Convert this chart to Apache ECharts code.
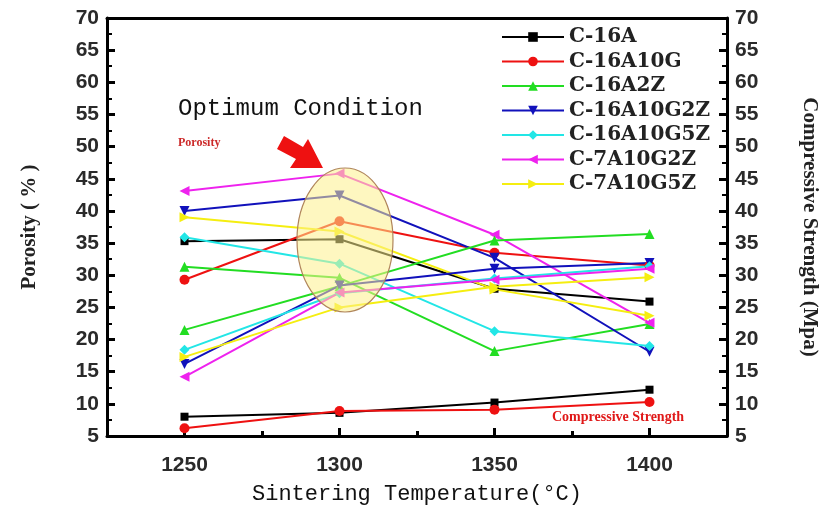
<!DOCTYPE html>
<html>
<head>
<meta charset="utf-8">
<script src="https://cdn.jsdelivr.net/npm/echarts@6/dist/echarts.min.js"></script>
<style>
  html, body { margin: 0; padding: 0; background: #fff; }
  #chart { width: 822px; height: 511px; }
</style>
</head>
<body>
<div id="chart"></div>
<script>
// sintering temperatures (°C)
const temps = [1250, 1300, 1350, 1400];
const names = ['C-16A', 'C-16A10G', 'C-16A2Z', 'C-16A10G2Z', 'C-16A10G5Z', 'C-7A10G2Z', 'C-7A10G5Z'];
const symbols = ['rect', 'circle', 'triangle', 'triangle', 'diamond', 'triangle', 'triangle'];
const symbolRotate = [0, 0, 0, 180, 0, 90, -90];
const colors = ['#000000', '#ee1111', '#22dd22', '#1111bb', '#22e6e6', '#ee22ee', '#f5ee10'];

// porosity (%)
const porosity = [
  [35.3, 35.6, 27.9, 25.9],
  [29.3, 38.4, 33.5, 31.5],
  [31.3, 29.6, 18.2, 22.4],
  [40.0, 42.4, 32.7, 18.1],
  [35.9, 31.8, 21.3, 19.0],
  [43.1, 45.8, 36.3, 22.6],
  [39.0, 36.8, 27.8, 23.7]
];
// compressive strength (MPa)
const strength = [
  [8.0, 8.6, 10.2, 12.2],
  [6.2, 8.9, 9.1, 10.3],
  [21.5, 28.3, 35.4, 36.4],
  [16.2, 28.4, 31.0, 31.9],
  [18.4, 27.2, 29.5, 31.4],
  [14.2, 27.3, 29.3, 31.0],
  [17.3, 25.0, 28.2, 29.7]
];

const yTicks = { min: 5, max: 70, interval: 5 };

const chart = echarts.init(document.getElementById('chart'));

function makeSeries(values, yIndex) {
  return names.map((n, i) => ({
    name: n,
    type: 'line',
    yAxisIndex: yIndex,
    data: temps.map((t, k) => [t, values[i][k]]),
    symbol: symbols[i],
    symbolRotate: symbolRotate[i],
    symbolSize: i === 0 ? 8 : 10,
    showSymbol: true,
    lineStyle: { color: colors[i], width: 2 },
    itemStyle: { color: colors[i] },
    z: 2
  }));
}

const labelFont = { fontFamily: 'Liberation Sans', fontSize: 21, fontWeight: 'bold', color: '#2a2a2a' };

const option = {
  animation: false,
  backgroundColor: '#fff',
  grid: { left: 107, top: 18, right: 95, bottom: 75, outerBoundsMode: 'none', containLabel: false },
  legend: {
    data: names,
    orient: 'vertical',
    left: 496,
    top: 22,
    itemWidth: 62,
    itemHeight: 12,
    itemGap: 4.5,
    textStyle: { fontFamily: 'DejaVu Serif', fontWeight: 'bold', fontSize: 20, color: '#222', lineHeight: 18 }
  },
  xAxis: [
    {
      type: 'value',
      min: 1225,
      max: 1425,
      interval: 25,
      name: 'Sintering Temperature(°C)',
      nameLocation: 'middle',
      nameGap: 47,
      nameTextStyle: { fontFamily: 'Liberation Mono', fontSize: 22, color: '#111' },
      axisLine: { lineStyle: { color: '#000', width: 3 } },
      axisTick: { inside: true, length: 8, lineStyle: { width: 3, color: '#000' }, customValues: temps },
      axisLabel: Object.assign({ margin: 19, customValues: temps, formatter: v => String(v) }, labelFont),
      splitLine: { show: false }
    },
    {
      type: 'value',
      position: 'bottom',
      min: 1225,
      max: 1425,
      interval: 25,
      axisLine: { show: false },
      axisTick: { inside: true, length: 5, lineStyle: { width: 3, color: '#000' }, customValues: [1275, 1325, 1375] },
      axisLabel: { show: false },
      splitLine: { show: false }
    },
    {
      type: 'value',
      position: 'top',
      min: 1225,
      max: 1425,
      axisLine: { show: true, lineStyle: { color: '#000', width: 3 } },
      axisTick: { show: false },
      axisLabel: { show: false },
      splitLine: { show: false }
    }
  ],
  yAxis: [
    Object.assign({
      type: 'value',
      name: 'Porosity ( % )',
      nameLocation: 'middle',
      nameGap: 67,
      nameTextStyle: { fontFamily: 'Liberation Serif', fontWeight: 'bold', fontSize: 21, color: '#222' },
      axisLine: { show: true, lineStyle: { color: '#000', width: 3 } },
      axisTick: { inside: true, length: 8, lineStyle: { width: 3, color: '#000' } },
      minorTick: { show: true, splitNumber: 2, length: 5, lineStyle: { width: 2, color: '#000' } },
      axisLabel: Object.assign({ margin: 8 }, labelFont),
      splitLine: { show: false }
    }, yTicks),
    Object.assign({
      type: 'value',
      position: 'right',
      name: 'Compressive Strength (Mpa)',
      nameLocation: 'middle',
      nameRotate: -90,
      nameGap: 72,
      nameTextStyle: { fontFamily: 'Liberation Serif', fontWeight: 'bold', fontSize: 21, color: '#222' },
      axisLine: { show: true, lineStyle: { color: '#000', width: 3 } },
      axisTick: { inside: true, length: 8, lineStyle: { width: 3, color: '#000' } },
      minorTick: { show: true, splitNumber: 2, length: 5, lineStyle: { width: 2, color: '#000' } },
      axisLabel: Object.assign({ margin: 8 }, labelFont),
      splitLine: { show: false }
    }, yTicks)
  ],
  series: makeSeries(porosity, 0).concat(makeSeries(strength, 1)),
  graphic: [
    {
      type: 'ellipse',
      shape: { cx: 345, cy: 240, rx: 48, ry: 72 },
      style: { fill: 'rgba(253, 240, 140, 0.55)', stroke: '#b0855a', lineWidth: 1.2 },
      z: 10
    },
    {
      type: 'polygon',
      shape: {
        points: [[323, 168], [290, 168], [296, 159], [277, 149], [284, 136], [303, 147], [308, 139]]
      },
      style: { fill: '#ee1111' },
      z: 11
    },
    {
      type: 'text',
      left: 178,
      top: 97,
      style: { text: 'Optimum Condition', font: '24px "Liberation Mono"', fill: '#111' },
      z: 11
    },
    {
      type: 'text',
      left: 178,
      top: 137,
      style: { text: 'Porosity', font: 'bold 12px "Liberation Serif"', fill: '#cc2a2a' },
      z: 11
    },
    {
      type: 'text',
      left: 552,
      top: 410,
      style: { text: 'Compressive Strength', font: 'bold 14px "Liberation Serif"', fill: '#e01818' },
      z: 11
    }
  ]
};

chart.setOption(option);
</script>
</body>
</html>
